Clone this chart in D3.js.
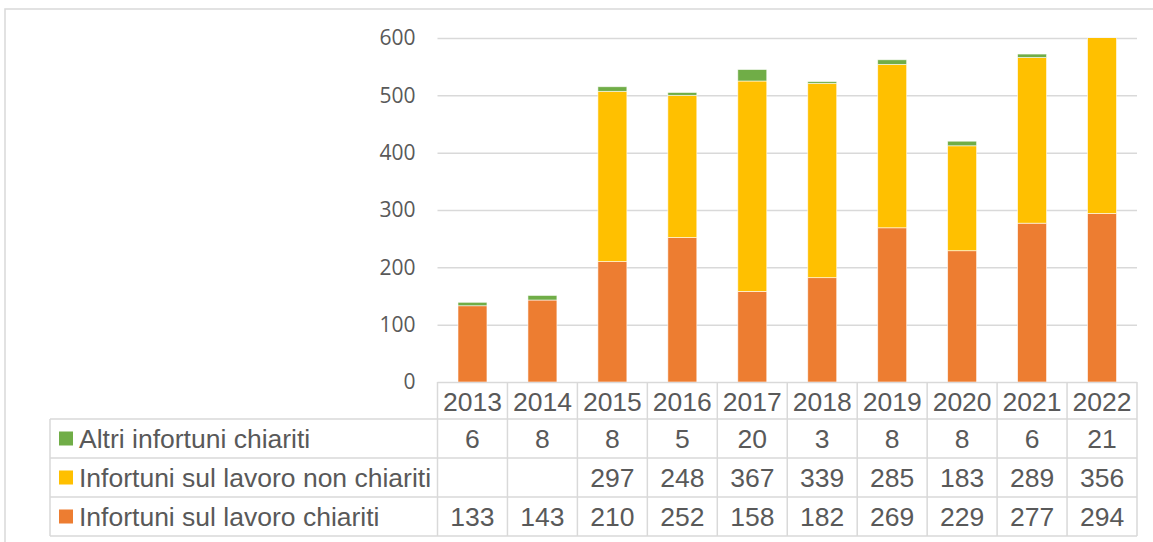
<!DOCTYPE html>
<html>
<head>
<meta charset="utf-8">
<script src="https://cdn.jsdelivr.net/npm/d3@7"></script>
<style>
  body { margin: 0; background: #fff; }
  svg { display: block; }
</style>
</head>
<body>
<div id="chart"></div>
<script>
// data
var years = ["2013","2014","2015","2016","2017","2018","2019","2020","2021","2022"];
var chiariti = [133,143,210,252,158,182,269,229,277,294];
var nonChiariti = [null,null,297,248,367,339,285,183,289,356];
var altri = [6,8,8,5,20,3,8,8,6,21];
var seriesNames = ["Altri infortuni chiariti","Infortuni sul lavoro non chiariti","Infortuni sul lavoro chiariti"];
var seriesColors = ["#70AD47","#FFC000","#ED7D31"];
var yTicks = [0,100,200,300,400,500,600];

var W = 1153, H = 542;
var svg = d3.select("#chart").append("svg").attr("width", W).attr("height", H);

var plotLeft = 437.5, plotRight = 1137, plotTop = 38, zero = 382;
var gridCol = "#d9d9d9", txtCol = "#595959";

// outer frame
svg.append("rect").attr("x", 5).attr("y", 9).attr("width", 1200).attr("height", 600)
  .attr("fill", "none").attr("stroke", gridCol).attr("stroke-width", 1.5);

var y = d3.scaleLinear().domain([0, 600]).range([zero, plotTop]);
var x = d3.scaleBand().domain(years).range([plotLeft, plotRight]).paddingInner(0.586).paddingOuter(0.293);
var col = d3.scaleBand().domain(years).range([plotLeft, plotRight]);

// gridlines + y labels
var yAxis = svg.append("g").attr("transform", "translate(" + plotLeft + ",0)")
  .call(d3.axisLeft(y).tickValues(yTicks).tickSize(-(plotRight - plotLeft)).tickPadding(22));
yAxis.select(".domain").remove();
yAxis.selectAll(".tick line").attr("stroke", gridCol).attr("stroke-width", 1.5);
yAxis.selectAll(".tick text").attr("fill", txtCol)
  .style("font-family", "'Open Sans', sans-serif").style("font-size", "21px");

// stacked bars
var rows = years.map(function(yr, i) {
  return { year: yr, chiariti: chiariti[i], non: nonChiariti[i] || 0, altri: altri[i] };
});
var stack = d3.stack().keys(["chiariti", "non", "altri"])(rows);
var keyColor = { chiariti: seriesColors[2], non: seriesColors[1], altri: seriesColors[0] };

svg.append("clipPath").attr("id", "plotclip").append("rect")
  .attr("x", plotLeft).attr("y", plotTop).attr("width", plotRight - plotLeft).attr("height", zero - plotTop);

var barG = svg.append("g").attr("clip-path", "url(#plotclip)");
barG.selectAll("g.layer").data(stack).enter().append("g").attr("class", "layer")
  .attr("fill", function(d) { return keyColor[d.key]; })
  .selectAll("rect").data(function(d) { return d; }).enter().append("rect")
  .attr("x", function(d) { return x(d.data.year); })
  .attr("width", x.bandwidth())
  .attr("y", function(d) { return y(d[1]); })
  .attr("height", function(d) { return Math.max(0, y(d[0]) - y(d[1])); })
  .attr("stroke", "#fff").attr("stroke-width", 0.8).attr("stroke-opacity", 0.7);

// data table
var rowTops = [382, 419, 458, 497, 536];
var legLeft = 50;
var tbl = svg.append("g").attr("stroke", gridCol).attr("stroke-width", 1.5);
rowTops.slice(1).forEach(function(ry) {
  tbl.append("line").attr("x1", legLeft).attr("x2", plotRight).attr("y1", ry).attr("y2", ry);
});
col.domain().forEach(function(yr) {
  tbl.append("line").attr("x1", col(yr)).attr("x2", col(yr)).attr("y1", zero).attr("y2", rowTops[4]);
});
tbl.append("line").attr("x1", plotRight).attr("x2", plotRight).attr("y1", zero).attr("y2", rowTops[4]);
tbl.append("line").attr("x1", legLeft).attr("x2", legLeft).attr("y1", rowTops[1]).attr("y2", rowTops[4]);

var tFont = "'Liberation Sans', Arial, sans-serif";
function cellText(tx, ty, s, anchor) {
  svg.append("text").attr("x", tx).attr("y", ty).attr("text-anchor", anchor || "middle")
    .attr("dy", "0.36em").attr("fill", txtCol)
    .style("font-family", tFont).style("font-size", "26.5px").text(s);
}
years.forEach(function(yr) {
  cellText(col(yr) + col.bandwidth() / 2, (rowTops[0] + rowTops[1]) / 2 + 1, yr);
});
var tableSeries = [altri, nonChiariti, chiariti];
tableSeries.forEach(function(vals, r) {
  var cy = (rowTops[r + 1] + rowTops[r + 2]) / 2;
  vals.forEach(function(v, i) {
    if (v != null) cellText(col(years[i]) + col.bandwidth() / 2, cy, v);
  });
  svg.append("rect").attr("x", 59).attr("y", cy - 7).attr("width", 14).attr("height", 14)
    .attr("fill", seriesColors[r]);
  cellText(79, cy, seriesNames[r], "start");
});
</script>
</body>
</html>
